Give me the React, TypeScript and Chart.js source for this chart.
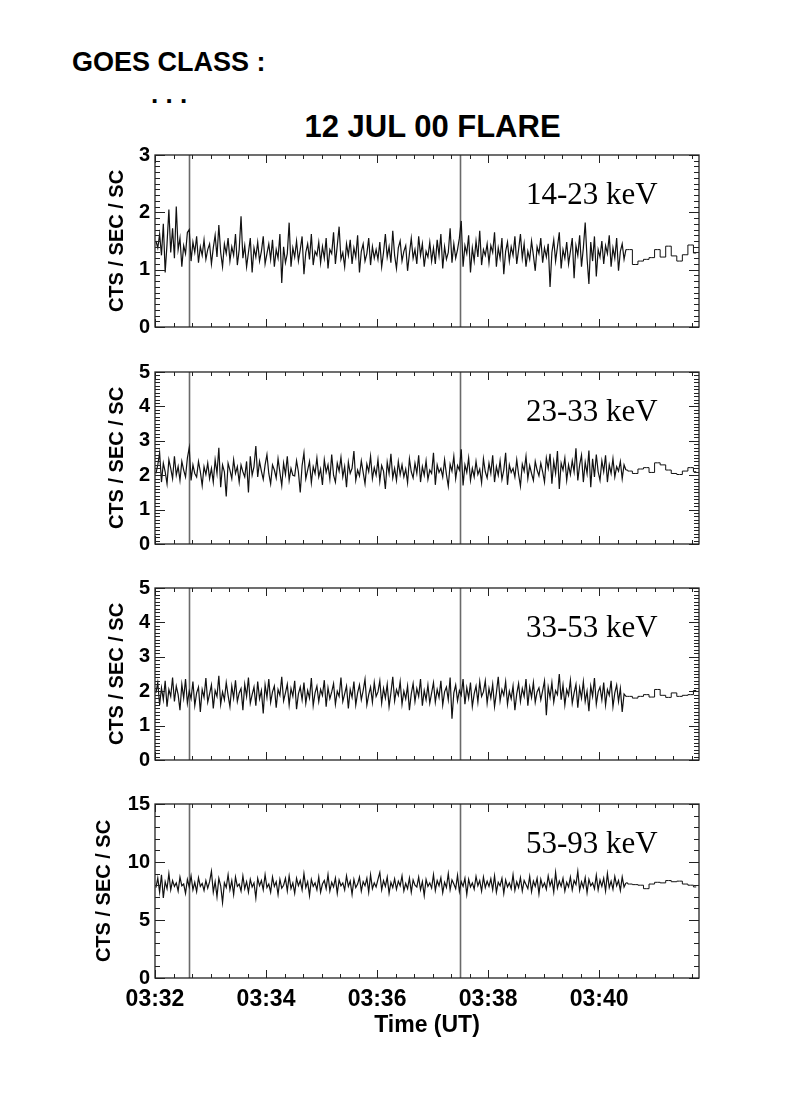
import React, { useEffect, useRef } from 'react';
import { Chart, registerables } from 'chart.js';

Chart.register(...registerables);

// ---- axes (time in seconds after 03:32:00 UT) ----
const X_MAX = 588;
const X_LABEL_VALUES = [0, 120, 240, 360, 480];
const X_LABELS = ['03:32', '03:34', '03:36', '03:38', '03:40'];
const X_MINOR = 20;
const X_MAJOR = 120;
const MARKERS = [37, 330];

const FINE_BIN = 2;
const COARSE_BIN = 6;
const FINE_END = 510;

const BANDS = ['14-23 keV', '23-33 keV', '33-53 keV', '53-93 keV'];
const Y_MAX = [3, 5, 5, 15];
const Y_TICKS = [[0, 1, 2, 3], [0, 1, 2, 3, 4, 5], [0, 1, 2, 3, 4, 5], [0, 5, 10, 15]];
const Y_MINOR = [0.1, 0.1, 0.1, 1];
const Y_MAJOR = [1, 1, 1, 5];

// ---- count rates (2 s bins to 03:40:30, 6 s bins after) ----
const FINE_14_23 = [
  1.50, 1.38, 1.62, 1.25, 1.80, 0.95, 1.45, 2.05, 1.30, 1.72, 1.20, 2.10, 1.35, 1.55, 1.05,
  1.42, 1.28, 1.65, 1.70, 1.15, 1.48, 1.30, 1.58, 1.12, 1.40, 1.25, 1.52, 1.18, 1.35, 1.45,
  1.10, 1.38, 1.60, 1.22, 1.78, 1.30, 1.05, 1.45, 1.28, 1.55, 1.15, 1.40, 1.25, 1.62, 1.08,
  1.35, 1.93, 1.20, 1.42, 1.05, 1.30, 1.55, 0.95, 1.38, 1.22, 1.48, 1.15, 1.32, 1.58, 1.10,
  1.28, 1.45, 1.18, 1.52, 1.05, 1.35, 1.20, 1.62, 0.77, 1.40, 1.12, 1.28, 1.82, 1.05, 1.38,
  1.22, 1.50, 1.15, 1.35, 1.58, 0.92, 1.30, 1.45, 1.18, 1.62, 1.08, 1.32, 1.25, 1.48, 1.12,
  1.40, 1.20, 1.55, 1.02, 1.35, 1.28, 1.65, 1.10, 1.42, 1.75, 1.18, 1.30, 1.05, 1.45, 1.25,
  1.52, 1.10, 1.38, 1.22, 1.60, 0.95, 1.32, 1.45, 1.15, 1.28, 1.55, 1.08, 1.40, 1.20, 1.35,
  1.18, 1.48, 1.05, 1.30, 1.62, 1.22, 1.40, 1.12, 1.68, 1.25, 1.02, 1.38, 1.50, 1.15, 1.32,
  1.42, 0.98, 1.28, 1.55, 1.20, 1.35, 1.10, 1.58, 1.25, 1.45, 1.05, 1.32, 1.22, 1.48, 1.15,
  1.38, 1.10, 1.52, 1.25, 1.62, 1.02, 1.40, 1.18, 1.30, 1.72, 1.12, 1.45, 1.20, 1.35, 1.55,
  1.85, 1.05, 1.42, 1.28, 1.60, 0.95, 1.38, 1.15, 1.50, 1.22, 1.68, 1.08, 1.35, 1.25, 1.45,
  1.12, 1.42, 1.30, 1.65, 1.05, 1.38, 1.20, 1.55, 0.92, 1.32, 1.48, 1.15, 1.40, 1.25, 1.58,
  1.10, 1.35, 1.62, 1.20, 1.45, 1.05, 1.32, 1.18, 1.50, 1.25, 0.98, 1.40, 1.28, 1.55, 1.12,
  1.38, 1.22, 1.45, 0.70, 1.30, 1.52, 1.15, 1.40, 1.65, 1.02, 1.35, 1.20, 1.48, 1.10, 1.32,
  1.55, 0.85, 1.42, 1.25, 1.60, 1.05, 1.38, 1.82, 1.20, 0.75, 1.48, 1.15, 1.58, 0.88, 1.35,
  1.22, 1.50, 1.10, 1.42, 1.28, 1.60, 1.05, 1.38, 1.20, 1.55, 0.98, 1.32, 1.45, 1.18, 1.35,
];
const COARSE_14_23 = [1.35, 1.09, 1.15, 1.18, 1.21, 1.35, 1.22, 1.41, 1.24, 1.15, 1.26, 1.43, 1.29];

const FINE_23_33 = [
  2.05, 2.30, 2.65, 1.80, 2.35, 2.10, 1.75, 2.45, 2.20, 1.90, 2.55, 2.00, 2.25, 1.85, 2.40,
  2.15, 1.95, 2.50, 2.80, 1.85, 2.30, 2.05, 1.95, 2.40, 2.10, 1.70, 2.25, 2.02, 2.35, 1.90,
  2.20, 1.80, 2.45, 2.05, 2.80, 1.65, 2.30, 2.10, 1.38, 2.35, 2.15, 1.90, 2.45, 2.05, 2.25,
  1.80, 2.30, 2.10, 1.95, 2.40, 1.50, 2.55, 2.00, 2.25, 2.85, 1.95, 2.40, 2.12, 1.88, 2.30,
  2.60, 2.05, 1.75, 2.30, 2.15, 1.92, 2.48, 2.08, 1.70, 2.35, 2.02, 2.55, 1.85, 2.20, 2.00,
  1.98, 2.42, 2.10, 1.50, 2.28, 2.65, 1.90, 2.15, 2.40, 1.78, 2.25, 2.05, 2.50, 1.95, 2.18,
  1.72, 2.45, 2.08, 2.30, 1.88, 2.60, 2.00, 1.80, 2.35, 2.12, 2.52, 1.95, 2.25, 1.65, 2.38,
  2.05, 2.20, 2.70, 1.85, 2.15, 1.98, 2.42, 2.08, 1.75, 2.32, 2.10, 2.55, 1.90, 2.22, 2.00,
  2.45, 1.82, 2.28, 2.12, 1.60, 2.38, 2.05, 2.62, 1.92, 2.20, 1.85, 2.40, 2.02, 2.30, 1.95,
  2.18, 1.78, 2.48, 2.10, 1.92, 2.35, 2.05, 2.58, 1.80, 2.25, 2.00, 2.42, 1.88, 2.15, 2.05,
  2.65, 1.72, 2.30, 2.08, 2.20, 1.95, 2.45, 2.02, 1.68, 2.32, 2.12, 2.55, 1.90, 2.28, 2.15,
  2.75, 1.70, 2.30, 2.08, 2.50, 1.85, 2.20, 1.95, 2.40, 2.02, 2.18, 1.78, 2.48, 2.10, 1.92,
  2.35, 2.05, 2.58, 1.80, 2.25, 2.00, 2.42, 1.88, 2.15, 2.65, 1.72, 2.30, 2.08, 2.20, 1.95,
  2.45, 2.02, 1.68, 2.32, 2.12, 2.55, 1.90, 2.28, 2.05, 1.85, 2.40, 2.15, 1.98, 2.35, 2.10,
  1.80, 2.50, 2.20, 2.62, 1.75, 2.40, 2.05, 2.70, 1.60, 2.35, 2.15, 2.50, 1.85, 2.30, 2.02,
  2.42, 2.10, 2.78, 1.85, 2.30, 2.58, 1.80, 2.38, 2.05, 2.72, 1.65, 2.48, 1.95, 2.60, 2.10,
  1.85, 2.42, 2.10, 2.58, 1.80, 2.30, 2.05, 2.48, 1.95, 2.25, 2.12, 2.40, 1.90, 2.30, 2.15,
];
const COARSE_23_33 = [2.12, 2.05, 2.18, 2.22, 2.08, 2.36, 2.30, 2.15, 2.05, 2.02, 2.12, 2.22, 2.10];

const FINE_33_53 = [
  1.95, 2.25, 1.60, 2.10, 1.75, 2.30, 1.55, 2.05, 1.85, 2.40, 1.70, 2.15, 1.90, 1.45, 2.20,
  1.80, 2.35, 1.65, 2.00, 1.78, 2.28, 1.58, 1.95, 2.12, 1.40, 2.05, 1.82, 2.38, 1.68, 1.92,
  2.18, 1.50, 2.02, 1.85, 2.45, 1.62, 1.98, 1.75, 2.25, 1.88, 1.55, 2.15, 1.80, 2.32, 1.70,
  1.95, 2.08, 1.45, 2.20, 1.85, 2.40, 1.65, 1.90, 2.12, 1.58, 2.28, 1.78, 2.02, 1.35, 2.18,
  1.82, 2.35, 1.68, 1.98, 2.15, 1.52, 2.05, 1.88, 2.42, 1.72, 1.95, 2.20, 1.60, 2.08, 1.85,
  2.30, 1.48, 1.92, 2.12, 1.75, 2.25, 1.65, 2.02, 1.80, 2.38, 1.58, 1.95, 2.15, 1.70, 2.05,
  1.88, 2.32, 1.55, 2.10, 1.78, 1.98, 2.22, 1.62, 2.00, 1.85, 2.40, 1.70, 1.92, 2.15, 1.50,
  2.05, 1.82, 2.28, 1.60, 1.95, 2.18, 1.75, 2.02, 2.35, 1.60, 1.90, 2.12, 1.68, 2.25, 1.85,
  1.98, 2.30, 1.65, 2.08, 1.80, 2.20, 1.55, 1.95, 2.42, 1.72, 2.05, 1.88, 2.28, 1.62, 2.00,
  1.78, 2.15, 1.45, 1.92, 2.22, 1.70, 2.08, 1.85, 2.35, 1.58, 2.02, 1.75, 2.18, 1.65, 1.95,
  2.25, 1.68, 2.05, 1.82, 2.30, 1.60, 1.98, 2.12, 1.75, 2.40, 1.20, 1.95, 2.18, 1.72, 2.02,
  1.88, 2.35, 1.62, 2.10, 1.80, 2.25, 1.55, 1.92, 2.15, 1.68, 2.28, 1.85, 1.98, 2.30, 1.65,
  2.08, 1.80, 2.20, 1.55, 1.95, 2.42, 1.72, 2.05, 1.88, 2.28, 1.62, 2.00, 1.78, 2.15, 1.45,
  1.92, 2.22, 1.70, 2.08, 1.85, 2.35, 1.58, 2.12, 1.82, 2.25, 1.68, 1.98, 2.10, 1.75, 2.02,
  2.30, 1.30, 2.12, 1.82, 2.25, 1.68, 2.02, 1.90, 2.50, 1.75, 2.18, 1.60, 2.05, 1.88, 2.32,
  1.65, 1.95, 2.20, 1.52, 2.10, 1.80, 2.28, 1.70, 2.00, 1.42, 2.15, 1.85, 2.38, 1.62, 1.98,
  2.12, 1.75, 2.25, 1.60, 2.05, 1.88, 2.30, 1.55, 1.95, 2.18, 1.70, 2.08, 1.40, 1.92, 1.85,
];
const COARSE_33_53 = [1.85, 1.80, 1.85, 1.90, 1.83, 2.05, 1.88, 1.82, 1.95, 1.85, 1.88, 1.90, 2.02];

const FINE_53_93 = [
  7.80, 8.60, 7.40, 8.90, 6.90, 8.30, 7.70, 9.00, 7.60, 8.40, 7.90, 8.20, 7.50, 8.70, 7.95,
  8.10, 7.30, 8.50, 7.85, 8.80, 7.60, 8.25, 7.45, 8.65, 7.90, 8.15, 7.55, 8.40, 7.75, 8.30,
  9.20, 7.40, 8.30, 7.00, 8.60, 7.95, 6.50, 8.20, 7.80, 8.90, 7.60, 8.40, 7.20, 8.70, 7.90,
  8.10, 7.50, 8.80, 7.70, 8.30, 7.40, 8.50, 7.85, 8.20, 6.90, 8.60, 7.95, 8.40, 7.60, 8.90,
  7.80, 8.10, 7.40, 8.70, 7.90, 8.30, 7.20, 8.50, 7.75, 8.00, 8.60, 7.50, 8.80, 7.70, 8.20,
  7.30, 8.60, 7.95, 8.40, 7.60, 9.00, 7.80, 8.30, 7.10, 8.50, 7.90, 8.20, 7.60, 8.70, 7.40,
  8.10, 8.40, 7.70, 8.90, 7.50, 8.25, 7.85, 8.60, 7.30, 8.45, 7.95, 8.20, 7.60, 8.80, 7.90,
  8.35, 7.20, 8.50, 7.80, 8.10, 8.70, 7.50, 8.30, 7.95, 8.60, 7.40, 8.90, 7.70, 8.20, 7.85,
  8.50, 9.10, 7.60, 8.40, 7.90, 8.70, 7.30, 8.25, 7.80, 8.55, 7.65, 8.35, 7.95, 8.80, 7.50,
  8.15, 7.70, 8.60, 7.40, 8.45, 8.00, 7.85, 8.70, 7.60, 8.30, 7.10, 8.50, 7.90, 8.20, 7.75,
  8.90, 7.55, 8.40, 7.95, 8.65, 7.35, 8.25, 7.80, 9.00, 7.60, 8.45, 8.10, 7.70, 8.85, 7.45,
  8.30, 7.90, 8.60, 7.20, 8.50, 7.85, 8.20, 7.65, 8.75, 7.95, 8.40, 7.50, 8.70, 7.80, 8.35,
  7.90, 8.55, 7.60, 8.80, 7.40, 8.25, 7.95, 8.60, 7.30, 8.45, 7.85, 8.20, 7.70, 8.90, 7.55,
  8.30, 7.80, 8.65, 7.50, 8.40, 8.05, 7.70, 8.75, 7.45, 8.35, 7.90, 8.60, 7.25, 8.50, 7.85,
  8.20, 7.65, 8.80, 7.95, 8.45, 7.40, 9.10, 7.75, 8.35, 7.90, 8.60, 7.50, 8.25, 7.85, 8.70,
  7.60, 8.40, 8.05, 9.20, 7.55, 8.30, 7.80, 8.65, 7.35, 8.50, 7.95, 8.20, 7.70, 8.85, 7.60,
  8.45, 7.90, 8.60, 7.50, 9.00, 7.80, 8.35, 7.65, 8.75, 7.95, 8.40, 7.55, 8.70, 7.85, 8.20,
];
const COARSE_53_93 = [8.10, 8.05, 8.00, 7.70, 8.10, 8.25, 8.20, 8.40, 8.30, 8.35, 8.10, 8.00, 7.85];

const FINE = [FINE_14_23, FINE_23_33, FINE_33_53, FINE_53_93];
const COARSE = [COARSE_14_23, COARSE_23_33, COARSE_33_53, COARSE_53_93];

// ---- layout ----
const PANEL_TOPS = [153, 370, 586, 802];
const PANEL_H = 176;
const PLOT_LEFT = 155;
const PLOT_RIGHT = 699;
const Y_AXIS_LEFT = [101, 101, 101, 88];
const PAD = 15;
const X_AXIS_H = 70;

const SANS = '"Liberation Sans", Arial, Helvetica, sans-serif';
const SERIF = '"Liberation Serif", "Times New Roman", serif';

const framePlugin = {
  id: 'frame',
  beforeDatasetsDraw(chart: any) {
    const { ctx, chartArea } = chart;
    const xs = chart.scales.x;
    ctx.save();
    ctx.strokeStyle = '#6a6a6a';
    ctx.lineWidth = 1.6;
    for (const m of MARKERS) {
      const px = Math.round(xs.getPixelForValue(m)) + 0.5;
      ctx.beginPath();
      ctx.moveTo(px, chartArea.top);
      ctx.lineTo(px, chartArea.bottom);
      ctx.stroke();
    }
    ctx.restore();
  },
  afterDatasetsDraw(chart: any) {
    const { ctx, chartArea } = chart;
    const { left, right, top, bottom } = chartArea;
    const xs = chart.scales.x;
    const ys = chart.scales.y;
    const idx = chart.options.plugins.frame.idx;
    ctx.save();
    ctx.strokeStyle = '#222';
    ctx.lineWidth = 1.3;
    ctx.strokeRect(left, top, right - left, bottom - top);
    ctx.lineWidth = 1;
    ctx.beginPath();
    const nx = Math.floor(X_MAX / X_MINOR + 1e-6);
    for (let k = 0; k <= nx; k++) {
      const v = k * X_MINOR;
      const px = Math.round(xs.getPixelForValue(v)) + 0.5;
      const len = v % X_MAJOR === 0 ? 8 : 4;
      ctx.moveTo(px, bottom);
      ctx.lineTo(px, bottom - len);
      ctx.moveTo(px, top);
      ctx.lineTo(px, top + len);
    }
    const ny = Math.round(Y_MAX[idx] / Y_MINOR[idx]);
    const per = Math.round(Y_MAJOR[idx] / Y_MINOR[idx]);
    for (let k = 0; k <= ny; k++) {
      const py = Math.round(ys.getPixelForValue(k * Y_MINOR[idx])) + 0.5;
      const len = k % per === 0 ? 10 : 5;
      ctx.moveTo(left, py);
      ctx.lineTo(left + len, py);
      ctx.moveTo(right, py);
      ctx.lineTo(right - len, py);
    }
    ctx.stroke();
    ctx.restore();
  },
};

function Panel({ idx }: { idx: number }) {
  const ref = useRef<HTMLCanvasElement>(null);
  const isLast = idx === FINE.length - 1;
  const height = PAD + PANEL_H + (isLast ? X_AXIS_H : PAD);

  useEffect(() => {
    const fine = FINE[idx].map((y, i) => ({ x: i * FINE_BIN + FINE_BIN / 2, y }));
    const coarse = [
      fine[fine.length - 1],
      ...COARSE[idx].map((y, j) => ({ x: FINE_END + j * COARSE_BIN + COARSE_BIN / 2, y })),
    ];
    const yLeft = Y_AXIS_LEFT[idx];
    const chart = new Chart(ref.current as HTMLCanvasElement, {
      type: 'line',
      data: {
        datasets: [
          { data: fine, borderColor: '#111', borderWidth: 1.2, stepped: false, pointRadius: 0, tension: 0, fill: false },
          { data: coarse, borderColor: '#111', borderWidth: 1, stepped: 'middle', pointRadius: 0, tension: 0, fill: false },
        ],
      },
      options: {
        animation: false,
        responsive: false,
        events: [],
        layout: { padding: { left: yLeft, right: 790 - PLOT_RIGHT, top: PAD, bottom: isLast ? 0 : PAD } },
        plugins: {
          legend: { display: false },
          tooltip: { enabled: false },
          frame: { idx },
        } as any,
        scales: {
          x: {
            type: 'linear',
            min: 0,
            max: X_MAX,
            display: isLast,
            grid: { display: false, drawTicks: false },
            border: { display: false },
            afterBuildTicks: (s: any) => {
              s.ticks = X_LABEL_VALUES.map((v) => ({ value: v }));
            },
            afterFit: (s: any) => {
              s.height = isLast ? X_AXIS_H : 0;
            },
            ticks: {
              callback: (v: any) => {
                const i = X_LABEL_VALUES.indexOf(Number(v));
                return i >= 0 ? X_LABELS[i] : '';
              },
              font: { family: SANS, size: 23, weight: 'bold' },
              color: '#000',
              padding: 8,
              maxRotation: 0,
              autoSkip: false,
            },
            title: {
              display: true,
              text: 'Time (UT)',
              font: { family: SANS, size: 23, weight: 'bold' },
              color: '#000',
              padding: { top: 0, bottom: 9 },
            },
          },
          y: {
            type: 'linear',
            min: 0,
            max: Y_MAX[idx],
            grid: { display: false, drawTicks: false },
            border: { display: false },
            afterBuildTicks: (s: any) => {
              s.ticks = Y_TICKS[idx].map((v) => ({ value: v }));
            },
            afterFit: (s: any) => {
              s.width = PLOT_LEFT - yLeft;
            },
            ticks: {
              callback: (v: any) => String(v),
              font: { family: SANS, size: 20, weight: 'bold' },
              color: '#000',
              padding: 5,
              autoSkip: false,
            },
            title: {
              display: true,
              text: 'CTS / SEC / SC',
              font: { family: SANS, size: 20, weight: 'bold' },
              color: '#000',
              padding: { top: 4, bottom: 4 },
            },
          },
        },
      } as any,
      plugins: [framePlugin],
    });
    return () => chart.destroy();
  }, [idx]);

  return (
    <>
      <canvas
        ref={ref}
        width={790}
        height={height}
        style={{ position: 'absolute', left: 0, top: PANEL_TOPS[idx] - PAD, width: 790, height }}
      />
      <div
        style={{
          position: 'absolute',
          left: 526,
          top: PANEL_TOPS[idx] + 51 - 0.8375 * 31,
          font: `31px ${SERIF}`,
          lineHeight: 1,
          whiteSpace: 'nowrap',
          color: '#000',
        }}
      >
        {BANDS[idx]}
      </div>
    </>
  );
}

export default function App() {
  return (
    <div style={{ position: 'absolute', left: 0, top: 0, width: 790, height: 1110, background: '#fff', overflow: 'hidden' }}>
      <div style={{ position: 'absolute', left: 72, top: 72 - 0.8465 * 27, font: `bold 27px ${SANS}`, lineHeight: 1, whiteSpace: 'nowrap' }}>
        GOES CLASS :
      </div>
      <div style={{ position: 'absolute', left: 151, top: 103 - 0.8465 * 26, font: `bold 26px ${SANS}`, lineHeight: 1, whiteSpace: 'pre' }}>
        {'. . .'}
      </div>
      <div
        style={{
          position: 'absolute',
          left: 432.5,
          top: 137 - 0.8465 * 31,
          transform: 'translateX(-50%)',
          font: `bold 31px ${SANS}`,
          lineHeight: 1,
          whiteSpace: 'nowrap',
        }}
      >
        12 JUL 00 FLARE
      </div>
      {FINE.map((_, i) => (
        <Panel key={i} idx={i} />
      ))}
    </div>
  );
}
